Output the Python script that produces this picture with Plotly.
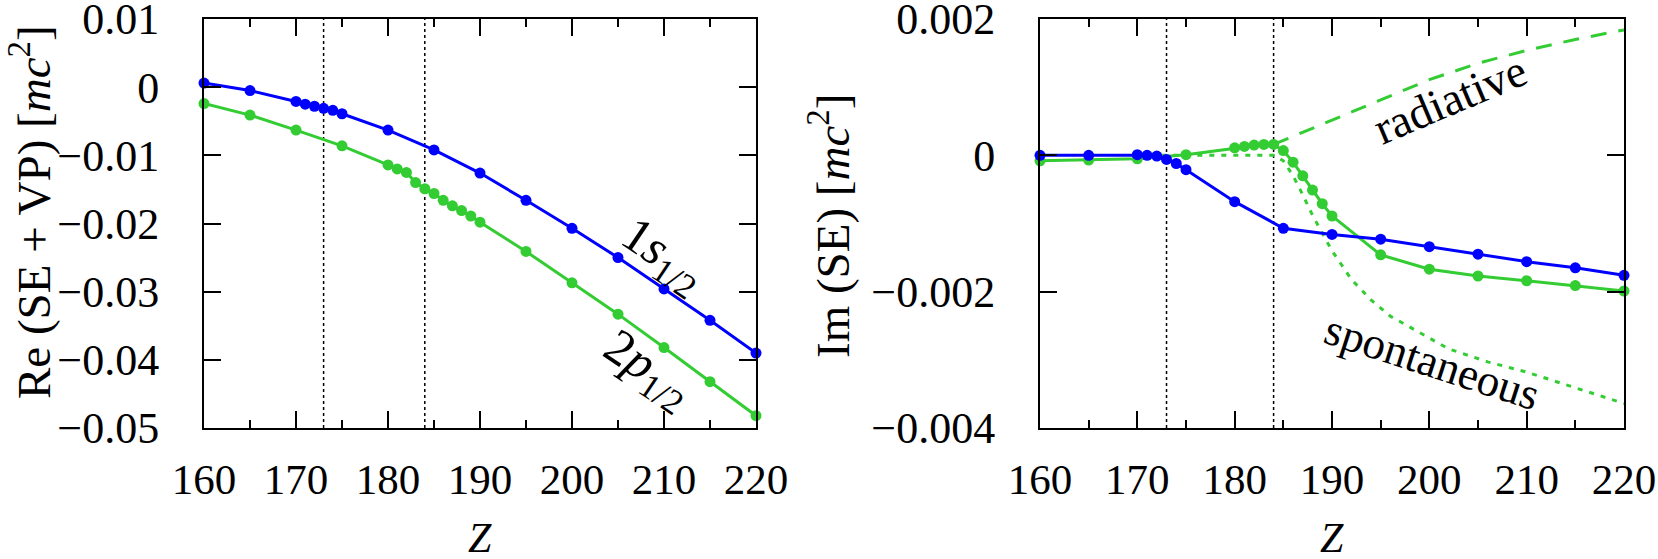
import plotly.graph_objects as go

# data
z_1s = [160, 165, 170, 171, 172, 173, 174, 175, 180, 185, 190, 195, 200, 205, 210, 215, 220]
z_2p = [160, 165, 170, 175, 180, 181, 182, 183, 184, 185, 186, 187, 188, 189, 190,
        195, 200, 205, 210, 215, 220]

re_1s = [0.0006, -0.0005, -0.0021, -0.0025, -0.0028, -0.0031, -0.0034, -0.0039, -0.0063,
         -0.0092, -0.0126, -0.0166, -0.0207, -0.0250, -0.0296, -0.0342, -0.0390]
re_2p = [-0.0024, -0.0041, -0.0063, -0.0086, -0.0114, -0.0120, -0.0125, -0.0140, -0.0149,
         -0.0156, -0.0166, -0.0174, -0.0181, -0.0189, -0.0198, -0.0241, -0.0287, -0.0333,
         -0.0382, -0.0432, -0.0482]

im_1s = [0.0, 0.0, 0.00001, 0.0, -0.00001, -0.00006, -0.00012, -0.00021, -0.00068,
         -0.00107, -0.00116, -0.00123, -0.00134, -0.00145, -0.00156, -0.00165, -0.00176]
im_2p = [-0.00008, -0.00007, -0.00005, 0.00001, 0.00011, 0.00013, 0.00015, 0.00016, 0.00016,
         0.00007, -0.00010, -0.00030, -0.00051, -0.00071, -0.00089, -0.00146, -0.00167,
         -0.00177, -0.00184, -0.00191, -0.00199]

z_rad = [184, 185, 190, 195, 200, 205, 210, 215, 220]
im_rad = [0.00016, 0.00022, 0.00051, 0.00082, 0.00111, 0.00135, 0.00154, 0.00170, 0.00184]

z_spon = [170, 175, 180, 184, 185, 186, 187, 188, 189, 190, 192, 194, 196, 199, 202, 206,
          210, 215, 220]
im_spon = [0.0, 0.0, 0.0, 0.0, -0.00008, -0.00030, -0.00058, -0.00088, -0.00114, -0.00140,
           -0.00182, -0.00212, -0.00236, -0.00260, -0.00284, -0.00303, -0.00318, -0.00341,
           -0.00364]

z_crit = [173, 184]

z_ticks = [160, 170, 180, 190, 200, 210, 220]
z_minor = [165, 175, 185, 195, 205, 215]
re_ticks = [0.01, 0, -0.01, -0.02, -0.03, -0.04, -0.05]
re_ticktext = ['0.01', '0', '\u22120.01', '\u22120.02', '\u22120.03', '\u22120.04', '\u22120.05']
im_ticks = [0.002, 0, -0.002, -0.004]
im_ticktext = ['0.002', '0', '\u22120.002', '\u22120.004']

FONT = 'Liberation Serif'
BLUE = '#0000ff'
GREEN = '#33cc33'

W, H = 1658, 559
TOP, BOT = 19, 428  # plot frame rows in page pixels

fig = go.Figure()


def data_line(x, y, color, xa, ya):
    return go.Scatter(
        x=x, y=y, mode='lines+markers', xaxis=xa, yaxis=ya,
        line=dict(color=color, width=3),
        marker=dict(color=color, size=11),
        cliponaxis=False, showlegend=False, hoverinfo='skip'
    )


# left panel: Re(SE + VP)
fig.add_trace(data_line(z_1s, re_1s, BLUE, 'x', 'y'))
fig.add_trace(data_line(z_2p, re_2p, GREEN, 'x', 'y'))

# right panel: Im(SE)
fig.add_trace(go.Scatter(
    x=z_rad, y=im_rad, mode='lines', xaxis='x2', yaxis='y2',
    line=dict(color=GREEN, width=3, dash='16px,12px'), showlegend=False, hoverinfo='skip'
))
fig.add_trace(go.Scatter(
    x=z_spon, y=im_spon, mode='lines', xaxis='x2', yaxis='y2',
    line=dict(color=GREEN, width=3, dash='5px,7px'), showlegend=False, hoverinfo='skip'
))
fig.add_trace(data_line(z_2p, im_2p, GREEN, 'x2', 'y2'))
fig.add_trace(data_line(z_1s, im_1s, BLUE, 'x2', 'y2'))

# critical charges
for xr, yr in [('x', 'y domain'), ('x2', 'y2 domain')]:
    for zc in z_crit:
        fig.add_shape(type='line', xref=xr, yref=yr, x0=zc, x1=zc, y0=0, y1=1,
                      line=dict(color='black', width=1.5, dash='3px,3px'), layer='below')

axis_common = dict(
    showline=True, linecolor='black', linewidth=2, mirror='ticks',
    ticks='inside', ticklen=17, tickwidth=1.5, tickcolor='black',
    showgrid=False, zeroline=False, automargin=False, ticklabeloverflow='allow',
    tickfont=dict(family=FONT, size=44, color='black'),
)

xaxis_common = dict(
    axis_common, range=[160, 220], tickmode='array', tickvals=z_ticks,
    ticklabelstandoff=12, tickfont=dict(family=FONT, size=43, color='black'),
    minor=dict(tickmode='array', tickvals=z_minor, ticks='inside', ticklen=8,
               tickwidth=1.5, tickcolor='black', showgrid=False),
)


def px(xpage):
    return xpage / W


def py(ypage):
    return 1 - (ypage - TOP) / (BOT - TOP)


fig.update_layout(
    width=W, height=H,
    template='none',
    margin=dict(l=0, r=0, t=TOP, b=H - BOT, pad=0),
    plot_bgcolor='white', paper_bgcolor='white',
    font=dict(family=FONT, size=44, color='black'),
    xaxis=dict(xaxis_common, domain=[px(204), px(756)], anchor='y'),
    yaxis=dict(axis_common, range=[-0.05, 0.01], tickmode='array',
               tickvals=re_ticks, ticktext=re_ticktext, domain=[0, 1], anchor='x',
               ticklabelstandoff=34),
    xaxis2=dict(xaxis_common, domain=[px(1040), px(1624)], anchor='y2'),
    yaxis2=dict(axis_common, range=[-0.004, 0.002], tickmode='array',
                tickvals=im_ticks, ticktext=im_ticktext, domain=[0, 1], anchor='x2',
                ticklabelstandoff=34),
)

annotations = [
    dict(text='Re (SE + VP) [<i>mc</i><sup>2</sup>]', x=px(30), y=py(212), textangle=-90,
         font=dict(size=47)),
    dict(text='Im (SE) [<i>mc</i><sup>2</sup>]', x=px(830), y=py(226), textangle=-90,
         font=dict(size=47)),
    dict(text='<i>Z</i>', x=px(480), y=py(538), font=dict(size=42)),
    dict(text='<i>Z</i>', x=px(1332), y=py(538), font=dict(size=42)),
    dict(text='1<i>s</i><sub>1/2</sub>', x=px(662), y=py(256), textangle=34,
         font=dict(size=50)),
    dict(text='2<i>p</i><sub>1/2</sub>', x=px(647), y=py(370), textangle=34,
         font=dict(size=50)),
    dict(text='radiative', x=px(1450), y=py(100), textangle=-23,
         font=dict(size=46)),
    dict(text='spontaneous', x=px(1432), y=py(362), textangle=18,
         font=dict(size=45)),
]
for a in annotations:
    fig.add_annotation(xref='paper', yref='paper', showarrow=False,
                       xanchor='center', yanchor='middle', **a)

# drop the default 8px page margin so the figure fills the window exactly
fig.write_html('out.html',
               config={'displayModeBar': False},
               post_script="document.body.style.margin='0';"
                           "document.body.style.overflow='hidden';")
